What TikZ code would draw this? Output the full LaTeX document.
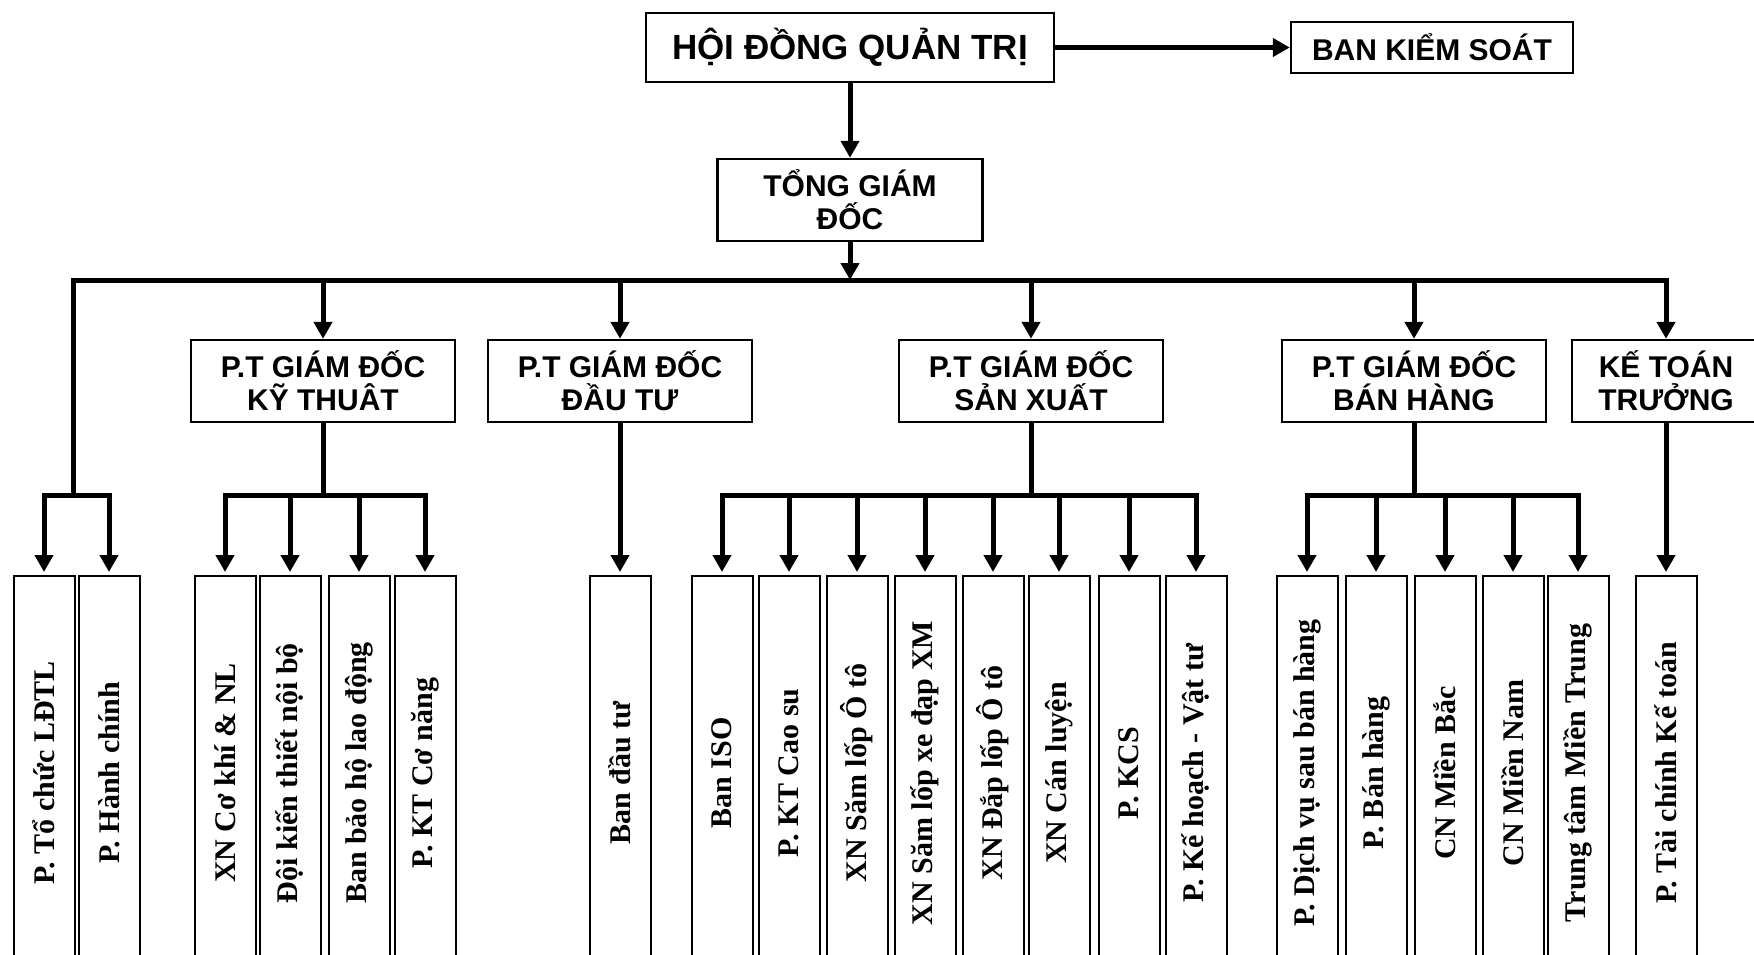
\documentclass[tikz,border=0pt]{standalone}
\usepackage{fontspec}
\usepackage{graphicx}
\usepackage{tikz}
\usetikzlibrary{arrows.meta}
\setmainfont{Liberation Serif}
\newfontfamily\headfont{Liberation Sans}

\tikzset{
  topbox/.style={draw, line width=2.4pt, align=center, inner sep=0pt, font=\headfont\bfseries\fontsize{30}{33}\selectfont},
  unitbox/.style={draw, line width=2pt, minimum width=61pt, minimum height=394pt, inner sep=0pt, font=\bfseries\fontsize{30}{36}\selectfont},
  link/.style={line width=5pt, line cap=rect},
  linkarrow/.style={line width=5pt, -{Triangle[length=17pt,width=18pt]}},
  unitarrow/.style={linkarrow, shorten >=3pt}
}

\begin{document}
\begin{tikzpicture}[x=1pt, y=-1pt]
\useasboundingbox (0,0) rectangle (1754,955);

% Board
\node[topbox, font=\headfont\bfseries\fontsize{35}{40}\selectfont, minimum width=408pt, minimum height=69pt] (hdqt) at (850,47.5) {HỘI ĐỒNG QUẢN TRỊ};
\node[topbox, minimum width=282pt, minimum height=51pt] (bks) at (1432,47.5) {BAN KIỂM SOÁT};
\node[topbox, minimum width=265pt, minimum height=82pt] (tgd) at (850,200) {TỔNG GIÁM\\ĐỐC};

% Deputies
\node[topbox, minimum width=264pt, minimum height=82pt] (ptkt) at (323,381) {P.T GIÁM ĐỐC\\KỸ THUÂT};
\node[topbox, minimum width=264pt, minimum height=82pt] (ptdt) at (620,381) {P.T GIÁM ĐỐC\\ĐẦU TƯ};
\node[topbox, minimum width=264pt, minimum height=82pt] (ptsx) at (1031,381) {P.T GIÁM ĐỐC\\SẢN XUẤT};
\node[topbox, minimum width=264pt, minimum height=82pt] (ptbh) at (1414,381) {P.T GIÁM ĐỐC\\BÁN HÀNG};
\node[topbox, minimum width=188pt, minimum height=82pt] (ktt) at (1666,381) {KẾ TOÁN\\TRƯỞNG};

% Units
\node[unitbox] (l1) at (44,773) {\rotatebox{90}{P. Tổ chức LĐTL}};
\node[unitbox] (l2) at (109,773) {\rotatebox{90}{P. Hành chính}};
\node[unitbox] (k1) at (225,773) {\rotatebox{90}{XN Cơ khí \& NL}};
\node[unitbox] (k2) at (290,773) {\rotatebox{90}{Đội kiến thiết nội bộ}};
\node[unitbox] (k3) at (359,773) {\rotatebox{90}{Ban bảo hộ lao động}};
\node[unitbox] (k4) at (425,773) {\rotatebox{90}{P. KT Cơ năng}};
\node[unitbox] (d1) at (620,773) {\rotatebox{90}{Ban đầu tư}};
\node[unitbox] (s1) at (722,773) {\rotatebox{90}{Ban ISO}};
\node[unitbox] (s2) at (789,773) {\rotatebox{90}{P. KT Cao su}};
\node[unitbox] (s3) at (857,773) {\rotatebox{90}{XN Săm lốp Ô tô}};
\node[unitbox] (s4) at (925,773) {\rotatebox{90}{XN Săm lốp xe đạp XM}};
\node[unitbox] (s5) at (993,773) {\rotatebox{90}{XN Đắp lốp Ô tô}};
\node[unitbox] (s6) at (1059,773) {\rotatebox{90}{XN Cán luyện}};
\node[unitbox] (s7) at (1129,773) {\rotatebox{90}{P. KCS}};
\node[unitbox] (s8) at (1196,773) {\rotatebox{90}{P. Kế hoạch - Vật tư}};
\node[unitbox] (b1) at (1307,773) {\rotatebox{90}{P. Dịch vụ sau bán hàng}};
\node[unitbox] (b2) at (1376,773) {\rotatebox{90}{P. Bán hàng}};
\node[unitbox] (b3) at (1445,773) {\rotatebox{90}{CN Miền Bắc}};
\node[unitbox] (b4) at (1513,773) {\rotatebox{90}{CN Miền Nam}};
\node[unitbox] (b5) at (1578,773) {\rotatebox{90}{Trung tâm Miền Trung}};
\node[unitbox] (t1) at (1666,773) {\rotatebox{90}{P. Tài chính Kế toán}};

% Bus lines
\coordinate (busL) at (73,280);
\coordinate (subL) at (73,495);

% Arrows
\draw[linkarrow] (hdqt.east) -- (bks.west);
\draw[linkarrow] (hdqt.south) -- (tgd.north);
\draw[linkarrow] (tgd.south) -- (tgd.south |- busL);
\draw[link] (subL) -- (busL) -- (busL -| ktt.north);
\draw[linkarrow] (busL -| ptkt.north) -- (ptkt.north);
\draw[linkarrow] (busL -| ptdt.north) -- (ptdt.north);
\draw[linkarrow] (busL -| ptsx.north) -- (ptsx.north);
\draw[linkarrow] (busL -| ptbh.north) -- (ptbh.north);
\draw[linkarrow] (busL -| ktt.north) -- (ktt.north);

% Left group
\draw[link] (subL -| l1.north) -- (subL -| l2.north);
\draw[unitarrow] (subL -| l1.north) -- (l1.north);
\draw[unitarrow] (subL -| l2.north) -- (l2.north);

% Technical
\draw[link] (ptkt.south) -- (ptkt.south |- subL);
\draw[link] (subL -| k1.north) -- (subL -| k4.north);
\draw[unitarrow] (subL -| k1.north) -- (k1.north);
\draw[unitarrow] (subL -| k2.north) -- (k2.north);
\draw[unitarrow] (subL -| k3.north) -- (k3.north);
\draw[unitarrow] (subL -| k4.north) -- (k4.north);

% Investment
\draw[unitarrow] (ptdt.south) -- (d1.north);

% Production
\draw[link] (ptsx.south) -- (ptsx.south |- subL);
\draw[link] (subL -| s1.north) -- (subL -| s8.north);
\draw[unitarrow] (subL -| s1.north) -- (s1.north);
\draw[unitarrow] (subL -| s2.north) -- (s2.north);
\draw[unitarrow] (subL -| s3.north) -- (s3.north);
\draw[unitarrow] (subL -| s4.north) -- (s4.north);
\draw[unitarrow] (subL -| s5.north) -- (s5.north);
\draw[unitarrow] (subL -| s6.north) -- (s6.north);
\draw[unitarrow] (subL -| s7.north) -- (s7.north);
\draw[unitarrow] (subL -| s8.north) -- (s8.north);

% Sales
\draw[link] (ptbh.south) -- (ptbh.south |- subL);
\draw[link] (subL -| b1.north) -- (subL -| b5.north);
\draw[unitarrow] (subL -| b1.north) -- (b1.north);
\draw[unitarrow] (subL -| b2.north) -- (b2.north);
\draw[unitarrow] (subL -| b3.north) -- (b3.north);
\draw[unitarrow] (subL -| b4.north) -- (b4.north);
\draw[unitarrow] (subL -| b5.north) -- (b5.north);

% Accounting
\draw[unitarrow] (ktt.south) -- (t1.north);
\end{tikzpicture}
\end{document}
